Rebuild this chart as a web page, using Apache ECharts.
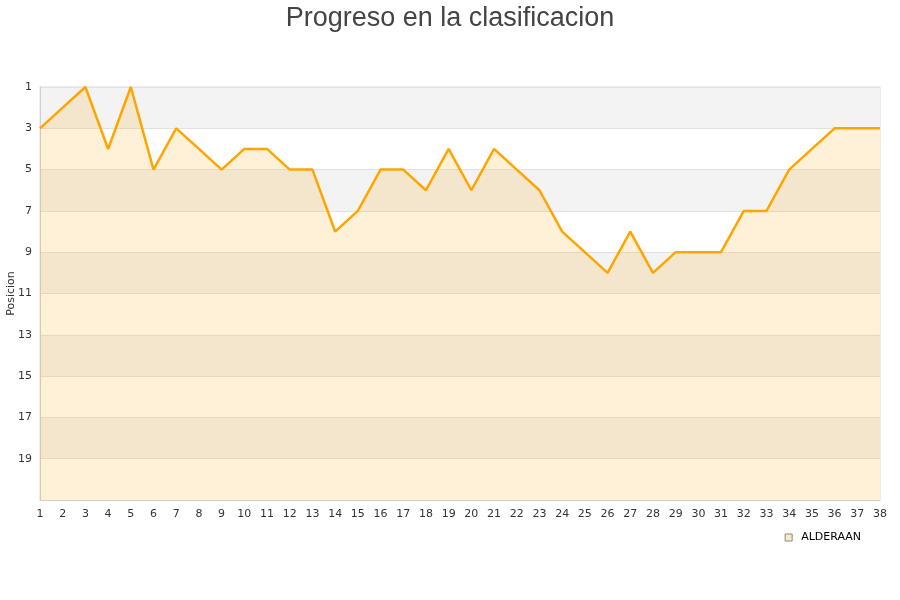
<!DOCTYPE html>
<html>
<head>
<meta charset="utf-8">
<script src="https://cdn.jsdelivr.net/npm/echarts@6/dist/echarts.min.js"></script>
<style>
  html, body { margin: 0; padding: 0; background: #fff; }
  #chart { width: 900px; height: 600px; }
</style>
</head>
<body>
<div id="chart"></div>
<script>
// jornadas 1..38
var jornadas = [];
for (var j = 1; j <= 38; j++) jornadas.push(String(j));

// posicion por jornada
var alderaan = [3, 2, 1, 4, 1, 5, 3, 4, 5, 4,
                4, 5, 5, 8, 7, 5, 5, 6, 4, 6,
                4, 5, 6, 8, 9, 10, 8, 10, 9, 9,
                9, 7, 7, 5, 4, 3, 3, 3];

var chart = echarts.init(document.getElementById('chart'));

var option = {
  animation: false,
  title: {
    text: 'Progreso en la clasificacion',
    left: 'center',
    top: 0,
    textStyle: { fontSize: 27, fontWeight: 'normal', color: '#444', fontFamily: 'Liberation Sans' }
  },
  legend: {
    data: ['ALDERAAN'],
    right: 34,
    top: 527,
    icon: 'rect',
    itemWidth: 7,
    itemHeight: 7,
    itemGap: 8,
    itemStyle: { color: '#fde9c2', borderColor: '#888', borderWidth: 1 },
    textStyle: { fontSize: 11, color: '#000', fontFamily: 'DejaVu Sans', padding: [0, 0, 0, 4] }
  },
  grid: {
    left: 40, right: 20, top: 87, bottom: 100,
    containLabel: false,
    outerBoundsMode: 'none',
    show: true, borderColor: '#dcdcdc', borderWidth: 1
  },
  xAxis: {
    type: 'category',
    data: jornadas,
    boundaryGap: false,
    axisLine: { lineStyle: { color: '#d0d0d0' } },
    axisTick: { show: false },
    axisLabel: { color: '#333', fontSize: 11, fontFamily: 'DejaVu Sans', margin: 9, interval: 0 }
  },
  yAxis: {
    type: 'value',
    inverse: true,
    min: 1,
    max: 21,
    interval: 2,
    name: 'Posicion',
    nameLocation: 'middle',
    nameGap: 23,
    nameMoveOverlap: false,
    nameTextStyle: { fontSize: 11, color: '#333', fontFamily: 'DejaVu Sans' },
    axisLine: { show: true, lineStyle: { color: '#d0d0d0' } },
    axisTick: { show: false },
    axisLabel: {
      color: '#333', fontSize: 11, fontFamily: 'DejaVu Sans', margin: 8,
      formatter: function (v) { return v === 21 ? '' : v; }
    },
    splitLine: { lineStyle: { color: '#e2e2e2' } },
    splitArea: { show: true, areaStyle: { color: ['#f3f3f3', '#ffffff'] } }
  },
  series: [{
    name: 'ALDERAAN',
    type: 'line',
    data: alderaan,
    showSymbol: false,
    symbol: 'none',
    lineStyle: { color: '#ffa500', width: 2.5 },
    itemStyle: { color: '#ffa500' },
    areaStyle: { color: 'rgba(255,165,0,0.22)', origin: 'end' }
  }]
};

chart.setOption(option);
</script>
</body>
</html>
